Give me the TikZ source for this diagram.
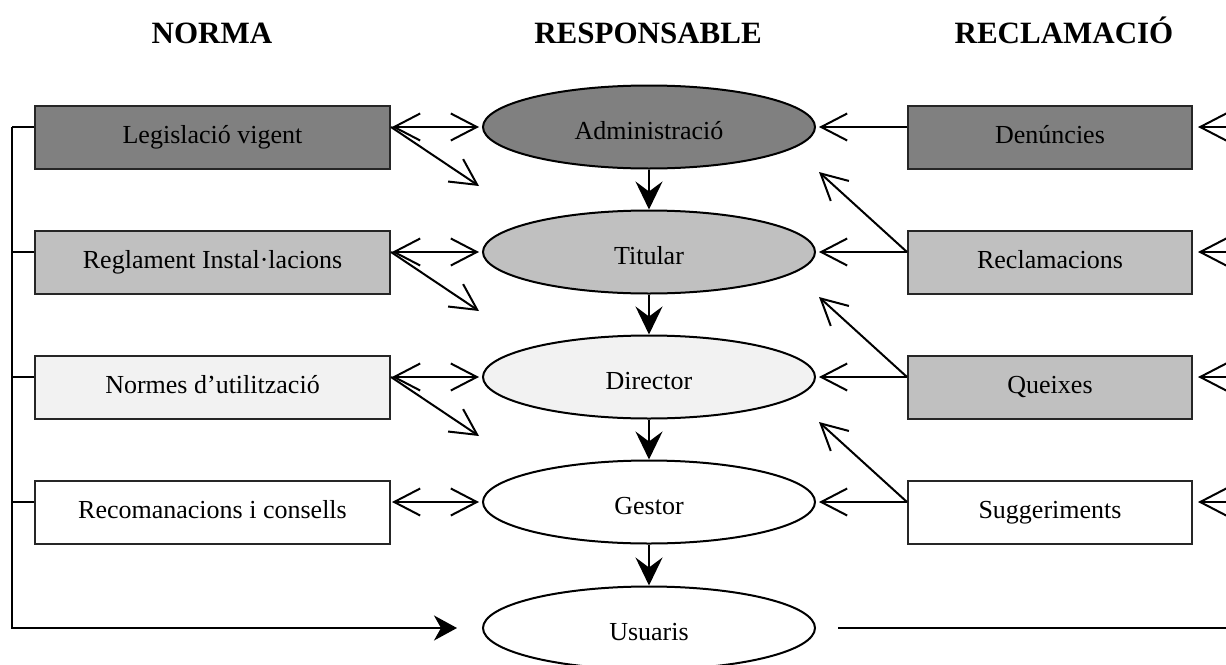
\documentclass[tikz,border=0pt]{standalone}
\usepackage{fontspec}
\setmainfont{Liberation Serif}
\usetikzlibrary{arrows.meta,shapes.geometric,calc}
\definecolor{gdark}{HTML}{808080}
\definecolor{gmid}{HTML}{C0C0C0}
\definecolor{glight}{HTML}{F2F2F2}
\tikzset{
  box/.style={draw=black!85, line width=2pt, minimum height=63pt, inner sep=0pt,
    font=\fontsize{26}{30}\selectfont, text height=16pt, text depth=5pt},
  lbox/.style={box, minimum width=355pt},
  rbox/.style={box, minimum width=284pt},
  ell/.style={ellipse, draw=black, line width=2pt, minimum width=332pt, minimum height=83pt,
    inner sep=0pt, font=\fontsize{26}{30}\selectfont, text height=24pt, text depth=0pt},
  head/.style={font=\bfseries\fontsize{31}{36}\selectfont, anchor=base},
  conn/.style={line width=2pt},
  open/.style={conn, -{Straight Barb[length=26pt,width=27pt,line width=2pt]}},
  dbl/.style={conn, {Straight Barb[length=26pt,width=27pt,line width=2pt]}-{Straight Barb[length=26pt,width=27pt,line width=2pt]}},
  solid arrow/.style={conn, -{Stealth[length=28pt,width=27pt,inset=10pt]}},
  usu arrow/.style={conn, -{Stealth[length=23pt,width=25pt,inset=7pt]}}
}
\begin{document}
\begin{tikzpicture}[x=1pt,y=-1pt]
\clip (0,0) rectangle (1226,664);
\fill[white] (0,0) rectangle (1226,664);

% headers
\node[head] (hn) at (212,43) {NORMA};
\node[head] (hr) at (648,43) {RESPONSABLE};
\node[head] (hc) at (1064,43) {RECLAMACIÓ};

% left boxes
\node[lbox, fill=gdark]  (L1) at (212.5,137.5) {Legislació vigent};
\node[lbox, fill=gmid]   (L2) at (212.5,262.5) {Reglament Instal·lacions};
\node[lbox, fill=glight] (L3) at (212.5,387.5) {Normes d’utilització};
\node[lbox, fill=white]  (L4) at (212.5,512.5) {Recomanacions i consells};

% ellipses
\node[ell, fill=gdark]  (E1) at (649,127) {Administració};
\node[ell, fill=gmid]   (E2) at (649,252) {Titular};
\node[ell, fill=glight] (E3) at (649,377) {Director};
\node[ell, fill=white]  (E4) at (649,502) {Gestor};
\node[ell, fill=white]  (E5) at (649,628) {Usuaris};

% right boxes
\node[rbox, fill=gdark] (R1) at (1050,137.5) {Denúncies};
\node[rbox, fill=gmid]  (R2) at (1050,262.5) {Reclamacions};
\node[rbox, fill=gmid]  (R3) at (1050,387.5) {Queixes};
\node[rbox, fill=white] (R4) at (1050,512.5) {Suggeriments};

% left rail
\coordinate (railtop) at (12,127);
\coordinate (railbot) at (12,628);
\draw[conn] (railtop) -- (L1.west |- E1.center);
\draw[conn] (railtop |- E2.center) -- (L2.west |- E2.center);
\draw[conn] (railtop |- E3.center) -- (L3.west |- E3.center);
\draw[conn] (railtop |- E4.center) -- (L4.west |- E4.center);
\draw[usu arrow] (railtop) -- (railbot) -- ([xshift=-25pt]E5.west);

% left double arrows
\draw[dbl, shorten <=1pt, shorten >=3pt] (L1.east |- E1.center) -- (E1.west);
\draw[dbl, shorten <=1pt, shorten >=3pt] (L2.east |- E2.center) -- (E2.west);
\draw[dbl, shorten <=1pt, shorten >=3pt] (L3.east |- E3.center) -- (E3.west);
\draw[dbl, shorten <=1pt, shorten >=3pt] (L4.east |- E4.center) -- (E4.west);

% left diagonals
\coordinate (dl1) at ($(E1.west)+(-3,59)$);
\coordinate (dl2) at ($(E2.west)+(-3,59)$);
\coordinate (dl3) at ($(E3.west)+(-3,59)$);
\draw[open] (L1.east |- E1.center) -- (dl1);
\draw[open] (L2.east |- E2.center) -- (dl2);
\draw[open] (L3.east |- E3.center) -- (dl3);

% vertical arrows
\draw[solid arrow] (E1.south) -- (E2.north);
\draw[solid arrow] (E2.south) -- (E3.north);
\draw[solid arrow] (E3.south) -- (E4.north);
\draw[solid arrow] (E4.south) -- (E5.north);

% right horizontal arrows
\draw[open, shorten >=3pt] (R1.west |- E1.center) -- (E1.east);
\draw[open, shorten >=3pt] (R2.west |- E2.center) -- (E2.east);
\draw[open, shorten >=3pt] (R3.west |- E3.center) -- (E3.east);
\draw[open, shorten >=3pt] (R4.west |- E4.center) -- (E4.east);

% right diagonals
\coordinate (dr2) at ($(E1.east)+(3,45)$);
\coordinate (dr3) at ($(E2.east)+(3,45)$);
\coordinate (dr4) at ($(E3.east)+(3,45)$);
\draw[open] (R2.west |- E2.center) -- (dr2);
\draw[open] (R3.west |- E3.center) -- (dr3);
\draw[open] (R4.west |- E4.center) -- (dr4);

% incoming from right edge
\coordinate (o1) at (1260,127);
\coordinate (o2) at (1260,252);
\coordinate (o3) at (1260,377);
\coordinate (o4) at (1260,502);
\coordinate (o5) at (1260,628);
\draw[open, shorten >=5pt] (o1) -- (R1.east |- E1.center);
\draw[open, shorten >=5pt] (o2) -- (R2.east |- E2.center);
\draw[open, shorten >=5pt] (o3) -- (R3.east |- E3.center);
\draw[open, shorten >=5pt] (o4) -- (R4.east |- E4.center);
\draw[conn] ([xshift=22pt]E5.east) -- (o5);
\end{tikzpicture}
\end{document}
